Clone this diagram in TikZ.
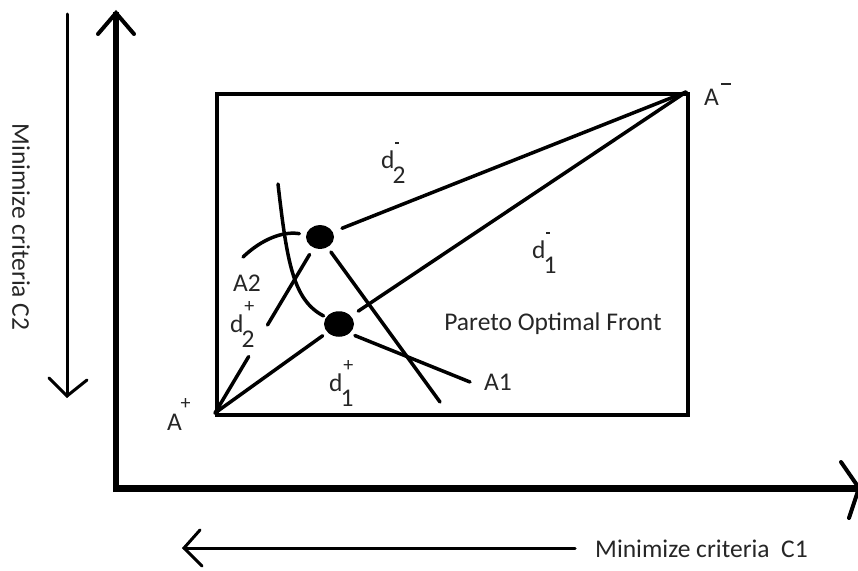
\documentclass[tikz,border=0pt]{standalone}
\usepackage{fontspec}
\setmainfont{Carlito}
\usetikzlibrary{shapes.geometric,calc}
\newcommand{\supmark}[1]{{\fontsize{20}{20}\selectfont #1}}
\newcommand{\shortbar}{\rule[0.25em]{0.2em}{0.07em}}
\newcommand{\dlab}[2]{d\rlap{\kern0.03em\raisebox{0.75em}{\supmark{#1}}}\kern-0.08em\raisebox{-0.62em}{#2}}
\begin{document}
\begin{tikzpicture}[x=1pt,y=-1pt,
  txt/.style={font=\fontsize{25.5}{28}\selectfont, text=black!85, inner sep=0pt},
  thick line/.style={line width=3.5pt, line cap=round},
  axis line/.style={line width=6.5pt},
  thin line/.style={line width=3pt, line cap=round},
  dot/.style={ellipse, fill=black, draw=none, minimum width=#1, minimum height=0.85*#1, inner sep=0pt, outer sep=0pt},
]
\useasboundingbox (0,0) rectangle (858,570);
% coordinates
\coordinate (Ap) at (215,413);
\coordinate (Am) at (686,92);
\coordinate (yb) at (116,492);
\coordinate (yt) at (116,12);
\coordinate (xl) at (113,488);
\coordinate (xr) at (859,488);
\coordinate (lt) at (67,14);
\coordinate (lb) at (67,396);
\coordinate (br) at (575,548);
\coordinate (bl) at (184,548);
\coordinate (fronttop) at (278,184);
\coordinate (a2start) at (243,257);
\coordinate (a1end) at (470,382);
\coordinate (crossend) at (440,402);
% axes
\draw[axis line] (yb) -- (yt);
\draw[line width=4pt, line cap=round, line join=miter] ($(yt)+(-18,22)$) -- ($(yt)+(0,1)$) -- ($(yt)+(18,22)$);
\draw[line width=7pt] (xl) -- (xr);
\draw[line width=4pt, line cap=round] ($(xr)+(-18,-26)$) -- ($(xr)+(0,0)$) -- ($(xr)+(-10,30)$);
% thin arrows
\draw[thin line] (lt) -- (lb);
\draw[thin line, line join=miter] ($(lb)+(-18,-18)$) -- (lb) -- ($(lb)+(20,-16)$);
\draw[thin line] (br) -- (bl);
\draw[thin line, line join=miter] ($(bl)+(16,-18)$) -- (bl) -- ($(bl)+(18,18)$);
\node[txt, rotate=-90] (c2) at (21,227) {Minimize criteria C2};
\node[txt, anchor=west] (c1) at (595,549) {Minimize criteria\ \ C1};
% box
\node[draw, line width=3.5pt, minimum width=471pt, minimum height=321pt, inner sep=0pt, anchor=north west] (box) at (215,92) {};
% dots
\node[dot=28pt] (udot) at (320,237) {};
\node[dot=30pt] (ldot) at (339,324) {};
% lines
\draw[thick line, shorten >=6pt] (Ap) -- (ldot);
\draw[thick line, shorten >=6pt] (Ap) -- ($(Ap)!0.35!(udot)$);
\draw[thick line, shorten >=8pt] ($(Ap)!0.5!(udot)$) -- (udot);
\draw[thick line, shorten <=10pt] (udot) -- (Am);
\draw[thick line, shorten <=9pt] (ldot) -- (Am);
\draw[thick line, shorten <=6pt] (udot) -- (crossend);
\draw[thick line, shorten <=6pt] (ldot.-42) -- (a1end);
\draw[thick line, shorten >=3pt] (fronttop) .. controls (287,262) and (293,300) .. (ldot);
\draw[thick line, shorten >=7pt] (a2start) .. controls (262,239) and (283,231) .. (udot);
% labels
\node[txt, anchor=base west] (lAm) at (704,105) {A\raisebox{0.78em}{\kern0.08em\rule{0.4em}{0.1em}}};
\node[txt, anchor=base west] (lAp) at (167,430) {A\raisebox{0.82em}{\kern-0.05em\supmark{+}}};
\node[txt] (lA2) at (247,283) {A2};
\node[txt] (lA1) at (498,382) {A1};
\node[txt, anchor=base west] (ld2p) at (230,332) {\dlab{+}{2}};
\node[txt, anchor=base west] (ld1p) at (329,391) {\dlab{+}{1}};
\node[txt, anchor=base west] (ld2m) at (381,168) {\dlab{\shortbar}{2}};
\node[txt, anchor=base west] (ld1m) at (532,258) {\dlab{\shortbar}{1}};
\node[txt] (pof) at (553,324) {Pareto Optimal Front};
\end{tikzpicture}
\end{document}
